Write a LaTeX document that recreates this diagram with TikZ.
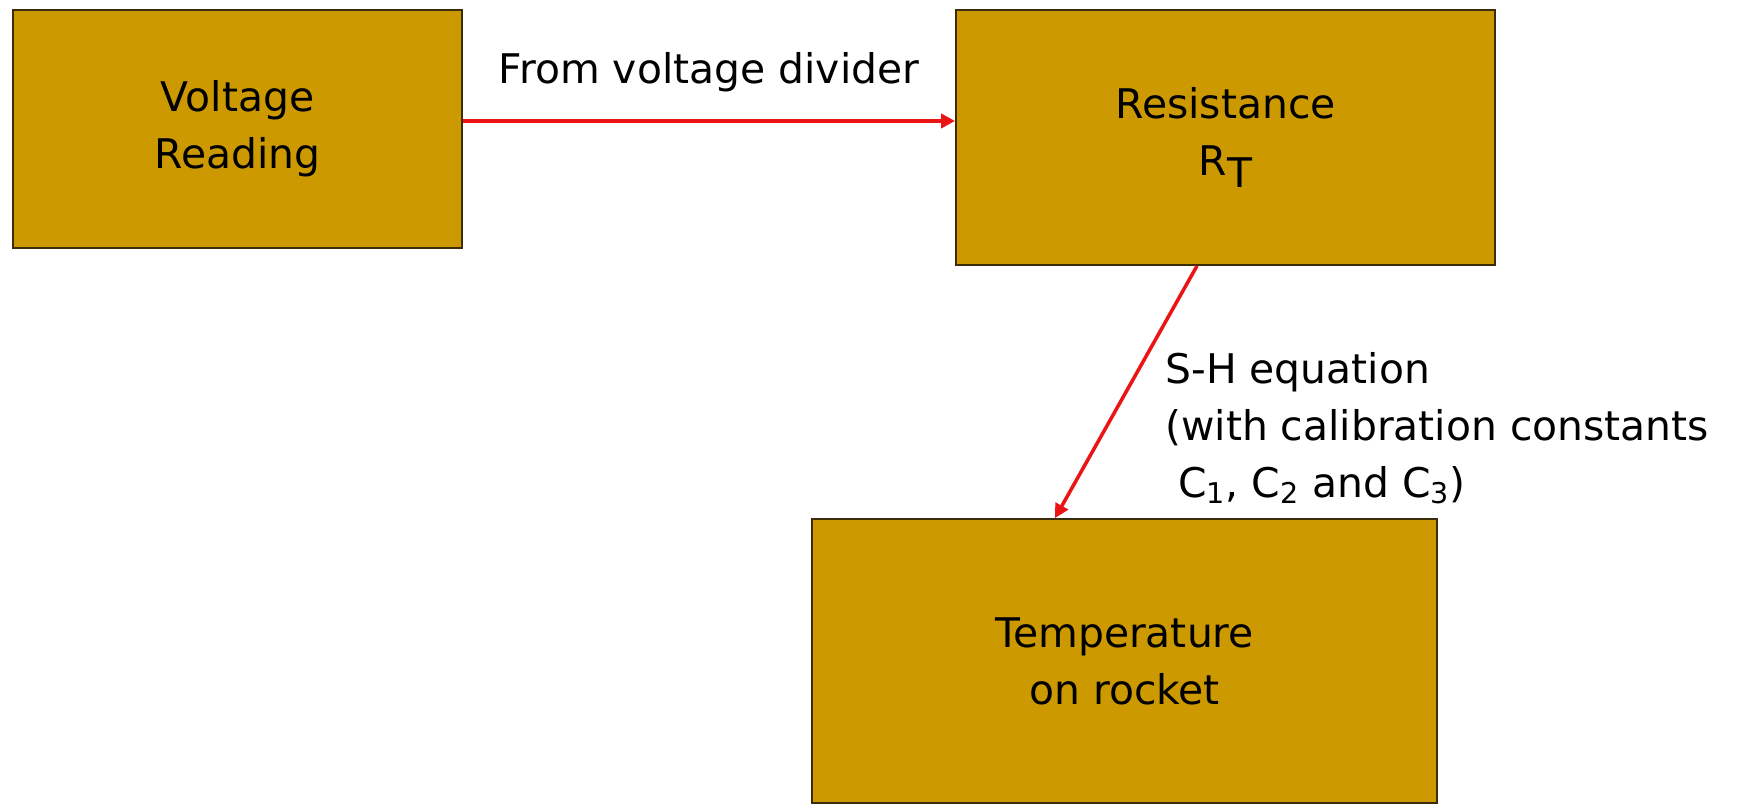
\documentclass[tikz,border=0pt]{standalone}
\usepackage{fontspec}
\setmainfont{DejaVu Sans}
\usetikzlibrary{arrows.meta}
\definecolor{boxgold}{RGB}{204,153,0}
\definecolor{boxedge}{RGB}{60,45,10}
\definecolor{flowred}{RGB}{235,20,20}

\begin{document}
\begin{tikzpicture}[
    stage/.style={draw=boxedge, line width=1pt, fill=boxgold, align=center,
      inner sep=0pt, font=\fontsize{23.25}{32.4}\selectfont},
    flow/.style={flowred, line width=2pt, -{Triangle[length=8pt,width=8pt]}},
    note/.style={inner sep=0pt, font=\fontsize{23.25}{32.4}\selectfont}]
  \useasboundingbox (0,0) rectangle (34.86,16.1);
  % the three stages
  \node[stage, minimum width=8.98cm, minimum height=4.76cm] (volt) at (4.75,13.52)
    {Voltage\\Reading};
  \node[stage, minimum width=10.78cm, minimum height=5.1cm] (res) at (24.51,13.35)
    {Resistance\\R\raisebox{-0.3em}{T}};
  \node[stage, minimum width=12.5cm, minimum height=5.68cm] (temp) at (22.49,2.88)
    {Temperature\\on rocket};
  % connectors
  \coordinate (vr) at ([yshift=0.16cm]volt.east);
  \draw[flow] (vr) -- (vr -| res.west);
  \draw[flow] ([xshift=-0.57cm]res.south) -- ([xshift=-1.39cm]temp.north);
  % labels
  \node[note, anchor=base] (divlbl) at (14.18,14.42) {From voltage divider};
  \node[note, anchor=north west, align=left] (shlbl) at (23.30,9.06)
    {S-H equation\\(with calibration constants\\
     \hspace*{0.318em}C\textsubscript{1}, C\textsubscript{2} and C\textsubscript{3})};
\end{tikzpicture}
\end{document}
